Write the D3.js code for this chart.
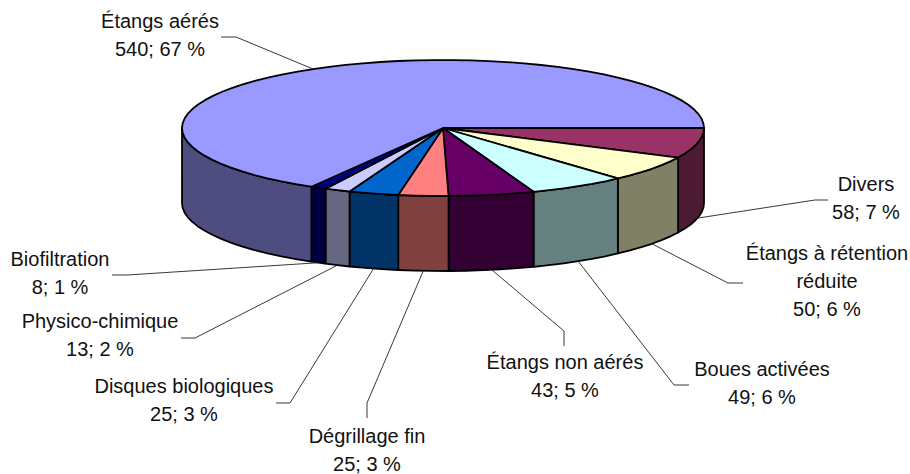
<!DOCTYPE html>
<html>
<head>
<meta charset="utf-8">
<style>
  html, body { margin: 0; padding: 0; background: #fff; }
  svg { display: block; }
  text { font-family: "Liberation Sans", Arial, sans-serif; font-size: 20px; fill: #111; text-anchor: middle; }
</style>
</head>
<body>
<svg width="910" height="474"></svg>
<script src="https://d3js.org/d3.v7.min.js"></script>
<script>

// values, clockwise from 3 o'clock
var categories = ["Divers", "Étangs à rétention réduite", "Boues activées", "Étangs non aérés",
    "Dégrillage fin", "Disques biologiques", "Physico-chimique", "Biofiltration", "Étangs aérés"];
var values = [58, 50, 49, 43, 25, 25, 13, 8, 540];
var percents = [7, 6, 6, 5, 3, 3, 2, 1, 67];
var topColors = ["#993366", "#FFFFCC", "#CCFFFF", "#660066", "#FF8080", "#0066CC", "#CCCCFF", "#000080", "#9999FF"];
var sideColors = ["#4D1A33", "#808066", "#668080", "#330033", "#804040", "#003366", "#666680", "#000040", "#4D4D80"];

// label layout: text lines, centre x, first baseline, leader elbow and leader end
var labelLines = [["Divers"], ["Étangs à rétention", "réduite"], ["Boues activées"], ["Étangs non aérés"],
    ["Dégrillage fin"], ["Disques biologiques"], ["Physico-chimique"], ["Biofiltration"], ["Étangs aérés"]];
var labelX = [866, 827, 762, 565, 367, 184, 100, 60, 160];
var labelY = [191, 260, 376, 369, 443, 393, 328, 266, 28];
var elbows = [[815, 200], [728, 283], [674, 385], [564, 331], [367, 403], [290, 403], [195, 338], [127, 275], [236, 37]];
var leaderEnds = [[828, 200], [743, 283], [689, 385], [564, 346], [367, 418], [276, 403], [181, 338], [112, 275], [221, 37]];

var svg = d3.select("svg");

var cx = 443, cy = 128, rx = 261, ry = 68, depth = 75;
var lineGap = 28;

// d3 pie angles run clockwise from 12 o'clock, so start at a quarter turn
var pie = d3.pie().sort(null).startAngle(Math.PI / 2).endAngle(Math.PI * 2.5);
var slices = pie(values);

var line = d3.line();

function rimX(a) { return cx + rx * Math.sin(a); }
function rimY(a) { return cy - ry * Math.cos(a); }

// points along the rim, slightly coarse like the original polygon outline
function rim(a0, a1) {
    var n = Math.max(1, Math.ceil((a1 - a0) / 0.07));
    return d3.range(n + 1).map(function(i) {
        var a = a0 + (a1 - a0) * i / n;
        return [rimX(a), rimY(a)];
    });
}

// the wall is only visible on the front half of the pie
var frontStart = Math.PI / 2, frontEnd = Math.PI * 1.5;

svg.append("g")
    .selectAll("path")
    .data(slices.filter(function(d) { return d.startAngle < frontEnd; }))
    .enter().append("path")
      .attr("fill", function(d) { return sideColors[d.index]; })
      .attr("stroke", "#000")
      .attr("stroke-width", 1.8)
      .attr("stroke-linejoin", "round")
      .attr("d", function(d) {
          var pts = rim(Math.max(d.startAngle, frontStart), Math.min(d.endAngle, frontEnd));
          var low = pts.map(function(p) { return [p[0], p[1] + depth]; }).reverse();
          return line(pts.concat(low)) + "Z";
      });

svg.append("g")
    .selectAll("path")
    .data(slices)
    .enter().append("path")
      .attr("fill", function(d) { return topColors[d.index]; })
      .attr("stroke", "#000")
      .attr("stroke-width", 1.8)
      .attr("stroke-linejoin", "round")
      .attr("d", function(d) {
          return line([[cx, cy]].concat(rim(d.startAngle, d.endAngle))) + "Z";
      });

// leaders start on the rim at the middle of the slice, on the wall when it is in front
svg.append("g")
    .selectAll("path")
    .data(slices)
    .enter().append("path")
      .attr("fill", "none")
      .attr("stroke", "#222")
      .attr("stroke-width", 0.9)
      .attr("d", function(d) {
          var a = (d.startAngle + d.endAngle) / 2;
          var y = rimY(a) + (a < frontEnd ? depth : 0);
          return line([[rimX(a), y], elbows[d.index], leaderEnds[d.index]]);
      });

var labels = svg.append("g")
    .selectAll("text")
    .data(slices)
    .enter().append("text")
      .attr("x", function(d) { return labelX[d.index]; })
      .attr("y", function(d) { return labelY[d.index]; });

labels.selectAll("tspan")
    .data(function(d) {
        return labelLines[d.index].concat(values[d.index] + "; " + percents[d.index] + " %").map(function(t) {
            return { text: t, x: labelX[d.index] };
        });
    })
    .enter().append("tspan")
      .attr("x", function(d) { return d.x; })
      .attr("dy", function(d, i) { return i ? lineGap : 0; })
      .text(function(d) { return d.text; });

</script>
</body>
</html>
